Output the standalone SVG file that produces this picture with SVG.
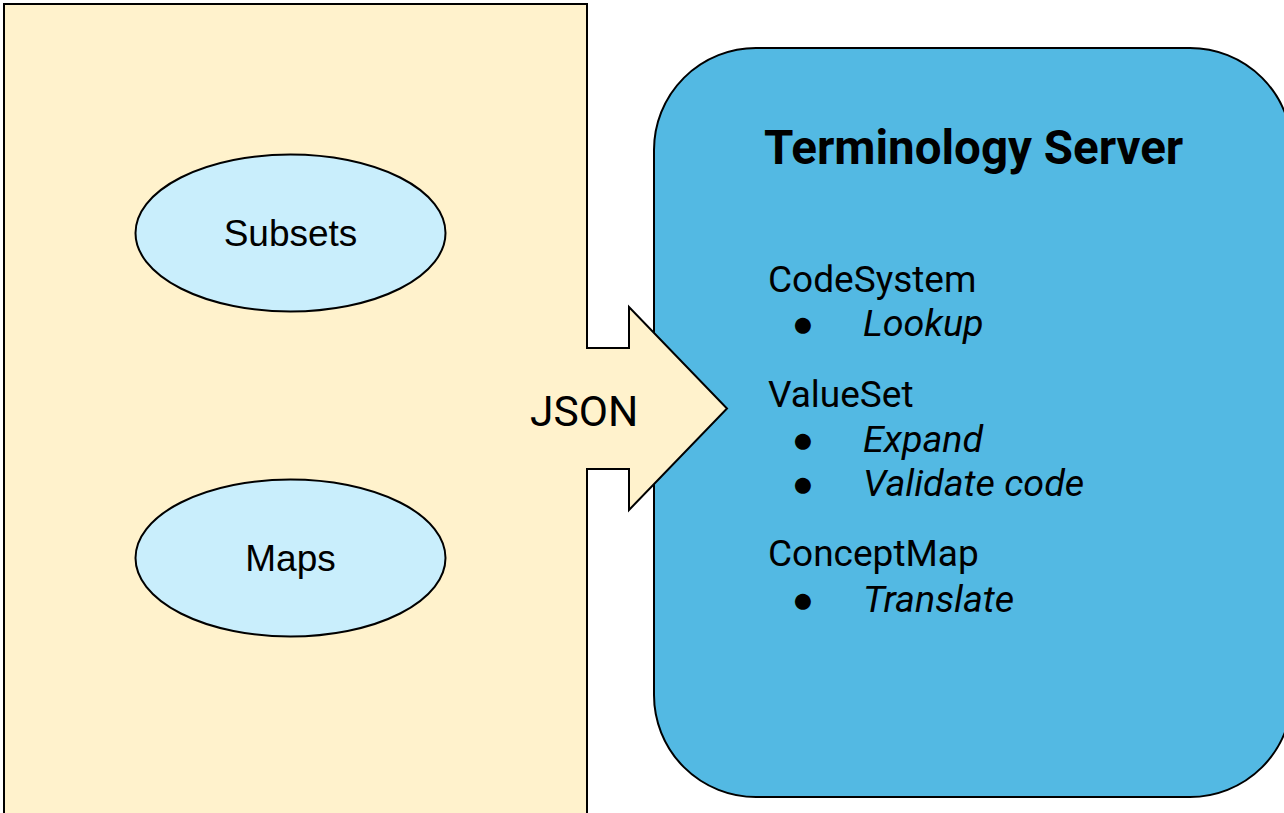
<svg xmlns="http://www.w3.org/2000/svg" width="1284" height="813" viewBox="0 0 1284 813">
<style>
.shape{stroke:#000;stroke-width:2}
.lbl{font-family:"Liberation Sans",Arial,sans-serif;font-size:37px;fill:#000}
.rb{font-family:Roboto,"Liberation Sans",sans-serif;fill:#000}
.body{font-size:37px}
.it{font-style:italic;font-size:37.7px}
</style>
<rect width="1284" height="813" fill="#fff"/>
<g id="source">
<rect class="shape" x="4" y="4" width="583" height="830" fill="#fff2cc"/>
</g>
<g id="subsets">
<ellipse class="shape" cx="290.5" cy="233" rx="155" ry="78.5" fill="#c9eefc"/>
<text class="lbl" x="290.5" y="246" text-anchor="middle">Subsets</text>
</g>
<g id="maps">
<ellipse class="shape" cx="290.5" cy="558" rx="155" ry="78.5" fill="#c9eefc"/>
<text class="lbl" x="290.5" y="571" text-anchor="middle">Maps</text>
</g>
<g id="server">
<rect class="shape" x="654" y="48" width="638" height="749" rx="102" ry="102" fill="#53b9e3"/>
<text class="rb" x="764" y="164" font-size="47.5" font-weight="bold">Terminology Server</text>
<g class="rb body">
<text x="768" y="292">CodeSystem</text>
<text x="803" y="336" text-anchor="middle">●</text>
<text class="it" x="863" y="336">Lookup</text>
<text x="768" y="407">ValueSet</text>
<text x="803" y="452" text-anchor="middle">●</text>
<text class="it" x="863" y="452">Expand</text>
<text x="803" y="496" text-anchor="middle">●</text>
<text class="it" x="863" y="496">Validate code</text>
<text x="768" y="566">ConceptMap</text>
<text x="803" y="612" text-anchor="middle">●</text>
<text class="it" x="863" y="612">Translate</text>
</g>
</g>
<g id="connectors">
<polygon points="585.5,348 629,348 629,307 727,408.5 629,510 629,469 585.5,469" fill="#fff2cc"/>
<path class="shape" d="M586,348 H629 V307 L727,408.5 L629,510 V469 H586" fill="none"/>
<text class="rb" x="530" y="426" font-size="42.5">JSON</text>
</g>
</svg>
